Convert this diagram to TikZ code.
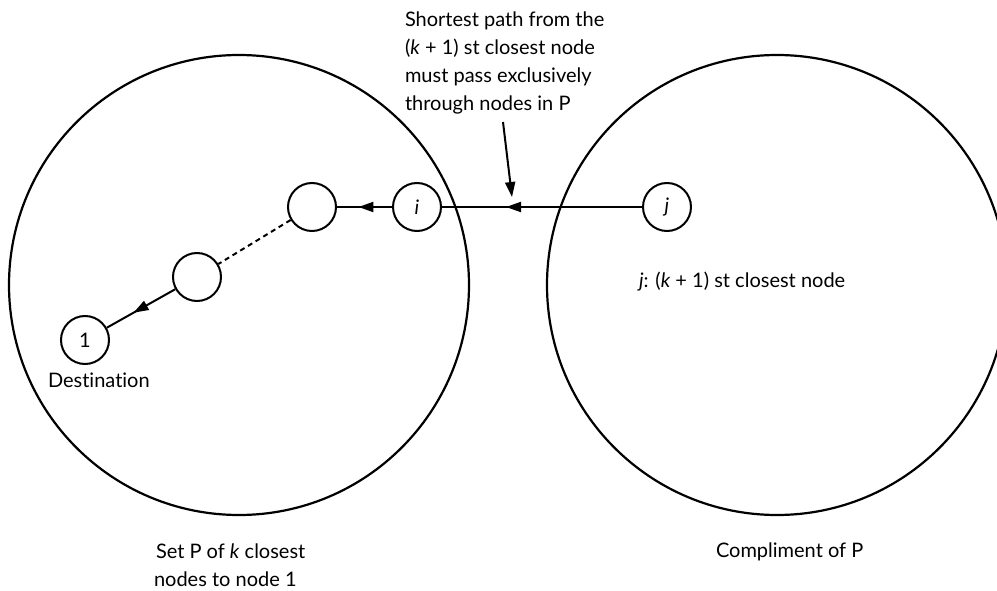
\documentclass[tikz,border=0pt]{standalone}
\usepackage{fontspec}
\setmainfont{Lato}[Ligatures=NoCommon]
\usetikzlibrary{arrows.meta, positioning, decorations.markings}
\tikzset{
  vertex/.style={draw, circle, minimum size=48pt, inner sep=0pt, line width=2pt, font=\fontsize{20}{24}\selectfont},
  setring/.style={draw, line width=2.2pt},
  midarrow/.style={postaction={decorate}, decoration={markings,
      mark=at position #1 with {\arrow{Triangle[length=15pt,width=10pt]}}}},
  note/.style={anchor=base west, inner sep=0pt, font=\fontsize{20}{28}\selectfont}
}

\begin{document}
\begin{tikzpicture}[x=1pt, y=1pt, line width=2pt]
		\useasboundingbox (0,0) rectangle (997,590);
		\clip (0,0) rectangle (997,590);
		% the two sets
		\draw[setring] (239,305) circle (230);
		\draw[setring] (777,305) circle (230);
		% nodes
		\node[vertex] (one) at (85,250) {1};
		\node[vertex] (lower) at (197,313) {};
		\node[vertex] (upper) at (312,383) {};
		\node[vertex] (i) at (417,383) {\itshape i};
		\node[vertex] (j) at (667,383) {\itshape j};
		% path from j back to 1
		\draw[midarrow=0.68] (j) -- (i);
		\draw[midarrow=0.61] (i) -- (upper);
		\draw[dash pattern=on 5pt off 4pt] (upper) -- (lower);
		\draw[midarrow=0.61] (lower) -- (one);
		% labels
		\foreach \y/\txt in {
		  563/Shortest path from the,
		  535/(\textit{k} + 1) st closest node,
		  507/must pass exclusively,
		  479/through nodes in P}
		  \node[note] (note\y) at (404,\y) {\txt};
		\coordinate (notetail) at (503,468);
		\coordinate (notetip) at (512,393);
		\draw[-{Triangle[length=15pt,width=10pt]}] (notetail) -- (notetip);
		\node[note] (dest) at (47,202) {Destination};
		\node[note] (jlabel) at (638,302) {\textit{j}: (\textit{k} + 1) st closest node};
		\node[note] (setp) at (155,32) {Set P of \textit{k} closest};
		\node[note] (setp2) at (153,4) {nodes to node 1};
		\node[note] (compl) at (715,33) {Compliment of P};
	\end{tikzpicture}
\end{document}
